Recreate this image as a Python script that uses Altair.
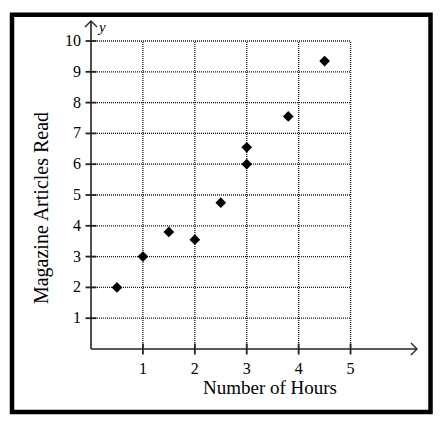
import altair as alt
import pandas as pd

# Data
hours = [0.5, 1, 1.5, 2, 2.5, 3, 3, 3.8, 4.5]
articles = [2, 3, 3.8, 3.55, 4.75, 6, 6.55, 7.55, 9.35]

x_ticks = [1, 2, 3, 4, 5]
y_ticks = [1, 2, 3, 4, 5, 6, 7, 8, 9, 10]

x_title = "Number of Hours"
y_title = "Magazine Articles Read"

x_grid_max = 5
y_grid_max = 10
x_axis_end = 6.28
y_axis_end = 10.65

FONT = "Liberation Serif"

pts = pd.DataFrame({"hours": hours, "articles": articles})
xt = pd.DataFrame({"v": x_ticks})
yt = pd.DataFrame({"v": y_ticks})
one = pd.DataFrame({"k": [0]})

xs = alt.Scale(domain=[0, x_axis_end], nice=False, zero=False)
ys = alt.Scale(domain=[0, y_axis_end], nice=False, zero=False)

def X(field=None, datum=None):
    if field is not None:
        return alt.X(field, scale=xs, axis=None)
    return alt.X(datum=datum, scale=xs, axis=None)

def Y(field=None, datum=None):
    if field is not None:
        return alt.Y(field, scale=ys, axis=None)
    return alt.Y(datum=datum, scale=ys, axis=None)

points = alt.Chart(pts).mark_point(
    shape="diamond", filled=True, color="black", size=115, opacity=1
).encode(x=X("hours:Q"), y=Y("articles:Q"))

vgrid = alt.Chart(xt).mark_rule(color="#1a1a1a", strokeWidth=1.3, strokeDash=[1, 1]).encode(
    x=X("v:Q"), y=Y(datum=0), y2=alt.datum(y_grid_max),
)
hgrid = alt.Chart(yt).mark_rule(color="#1a1a1a", strokeWidth=1.3, strokeDash=[1, 1]).encode(
    y=Y("v:Q"), x=X(datum=0), x2=alt.datum(x_grid_max),
)

xaxis_line = alt.Chart(one).mark_rule(color="#222", strokeWidth=1.6).encode(
    x=X(datum=0), x2=alt.datum(x_axis_end), y=Y(datum=0),
)
yaxis_line = alt.Chart(one).mark_rule(color="#222", strokeWidth=1.6).encode(
    y=Y(datum=0), y2=alt.datum(y_axis_end), x=X(datum=0),
)

xticks_m = alt.Chart(xt).mark_point(
    shape="M0,-1L0,1", filled=False, color="#222", strokeWidth=1.8, size=121, opacity=1
).encode(x=X("v:Q"), y=Y(datum=0))
yticks_m = alt.Chart(yt).mark_point(
    shape="M-1,0L1,0", filled=False, color="#222", strokeWidth=1.8, size=121, opacity=1
).encode(y=Y("v:Q"), x=X(datum=0))

xarrow = alt.Chart(one).mark_point(
    shape="M-1,-1L0,0L-1,1", filled=False, color="#222", strokeWidth=1.4, size=144, opacity=1
).encode(x=X(datum=x_axis_end), y=Y(datum=0))
yarrow = alt.Chart(one).mark_point(
    shape="M-1,1L0,0L1,1", filled=False, color="#222", strokeWidth=1.4, size=144, opacity=1
).encode(x=X(datum=0), y=Y(datum=y_axis_end))

xlabels = alt.Chart(xt).mark_text(
    font=FONT, fontSize=16, baseline="top", align="center", dy=12, color="black"
).encode(x=X("v:Q"), y=Y(datum=0), text="v:Q")
ylabels = alt.Chart(yt).mark_text(
    font=FONT, fontSize=16, baseline="middle", align="right", dx=-10, color="black"
).encode(y=Y("v:Q"), x=X(datum=0), text="v:Q")

xtitle = alt.Chart(one).mark_text(
    text=x_title, font=FONT, fontSize=19, baseline="alphabetic", align="center", color="black"
).encode(x=alt.value(179), y=alt.value(373))
ytitle = alt.Chart(one).mark_text(
    text=y_title, font=FONT, fontSize=20, baseline="alphabetic", align="center",
    angle=270, color="black"
).encode(x=alt.value(-43), y=alt.value(187))

ylabel = alt.Chart(one).mark_text(
    text="y", font=FONT, fontStyle="italic", fontSize=15, align="left",
    baseline="alphabetic", dx=8, dy=11, color="black"
).encode(x=X(datum=0), y=Y(datum=y_axis_end))

border = alt.Chart(one).mark_rect(
    fillOpacity=0, stroke="black", strokeWidth=4.5
).encode(
    x=alt.value(-79), x2=alt.value(339.5), y=alt.value(-6.3), y2=alt.value(391)
)

chart = alt.layer(
    vgrid, hgrid, xaxis_line, yaxis_line, xticks_m, yticks_m,
    xarrow, yarrow, xlabels, ylabels, xtitle, ytitle, ylabel, border, points
).properties(
    width=326, height=328,
    autosize=alt.AutoSizeParams(type="none"),
    padding={"left": 83, "top": 13, "right": 21, "bottom": 70},
    background="white",
).configure_view(strokeWidth=0)

chart.save("out.html", embed_options={"renderer": "svg", "actions": False})
